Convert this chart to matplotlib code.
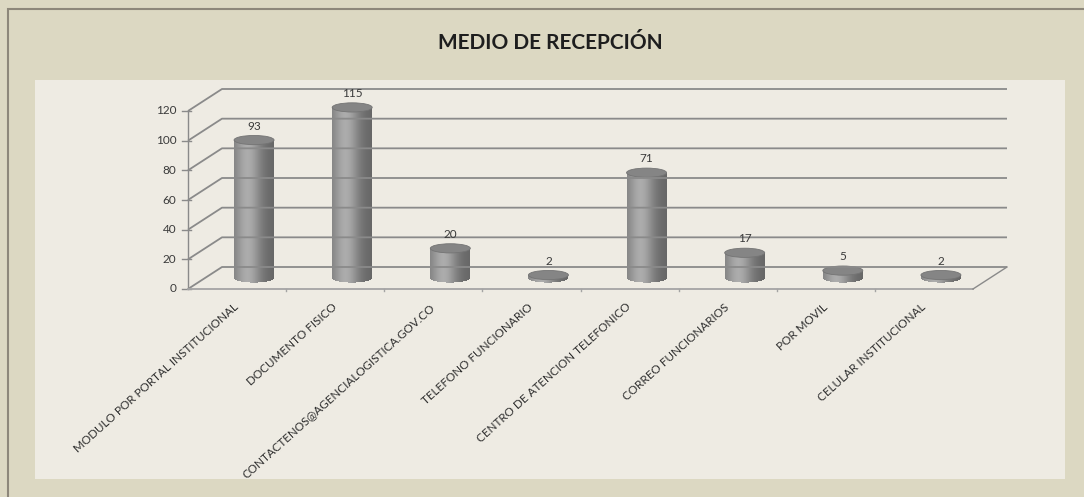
import numpy as np
import matplotlib.pyplot as plt
from matplotlib.patches import Ellipse, Rectangle

plt.rcParams['font.family'] = ['Lato', 'DejaVu Sans']

titulo = "MEDIO DE RECEPCIÓN"
categorias = [
    "MODULO POR PORTAL INSTITUCIONAL",
    "DOCUMENTO FISICO",
    "CONTACTENOS@AGENCIALOGISTICA.GOV.CO",
    "TELEFONO FUNCIONARIO",
    "CENTRO DE ATENCION TELEFONICO",
    "CORREO FUNCIONARIOS",
    "POR MOVIL",
    "CELULAR INSTITUCIONAL",
]
valores = [93, 115, 20, 2, 71, 17, 5, 2]
y_ticks = [0, 20, 40, 60, 80, 100, 120]

W, H = 1084, 497
fig = plt.figure(figsize=(W / 100, H / 100), dpi=100)
fig.patch.set_facecolor('#dcd8c2')

# marco exterior y panel interior
fig.add_artist(Rectangle((8 / W, -0.1), 1.2, 1.1 - 9 / H, transform=fig.transFigure,
                         fill=False, ec='#8d877a', lw=1.5, zorder=-2))
fig.add_artist(Rectangle((35 / W, 1 - 479 / H), (1065 - 35) / W, (479 - 80) / H,
                         transform=fig.transFigure, fc='#eeebe3', ec='none', zorder=-1))

fig.text(550 / W, 1 - 43 / H, titulo, ha='center', va='center',
         fontsize=15, fontweight='bold', color='#1e1e1e')

# escalas: 8 categorias en 785 px, 120 unidades en 178 px
px_x = 785 / 8
px_y = 178 / 120
ax = fig.add_axes([0, 0, 1, 1])
ax.set_xlim(-188 / px_x, (W - 188) / px_x)
ax.set_ylim(-208 / px_y, (H - 208) / px_y)
ax.axis('off')

n = len(categorias)
dx = 34 / px_x   # profundidad
dy = 22 / px_y
ymax = y_ticks[-1]

# pared del fondo (lineas de cuadricula)
for v in y_ticks:
    ax.plot([0, dx, n + dx], [v, v + dy, v + dy], color='#8a8a8a', lw=1.3,
            solid_capstyle='butt')
    ax.plot([-0.06, 0.03], [v, v], color='#8a8a8a', lw=1.0)
    ax.text(-0.12, v, str(v), ha='right', va='center', fontsize=8.5, color='#3a3a3a')

# eje vertical y piso
ax.plot([0, 0], [0, ymax], color='#8a8a8a', lw=1.0)
ax.plot([0, n], [0, 0], color='#a4a4a4', lw=1.3)
ax.plot([n, n + dx], [0, dy], color='#8a8a8a', lw=1.0)
for k in range(1, n):
    ax.plot([k, k], [-1.5, 0], color='#a4a4a4', lw=1.0)

# cilindros
a = 20 / px_x
b = 4.6 / px_y
base = dy / 2
m = 40
edges = np.linspace(-a, a, m + 1)
mids = (edges[:-1] + edges[1:]) / 2
t = (mids + a) / (2 * a)
luz = 0.40 + 0.24 * np.exp(-((t - 0.35) / 0.32) ** 2) + 0.05 * (1 - t)
for i, v in enumerate(valores):
    xc = i + 0.5 + dx / 2
    ybot = base - b * np.sqrt(np.clip(1 - (mids / a) ** 2, 0, 1))
    top = base + v
    for xm, yb, l in zip(mids, ybot, luz):
        ax.bar(xc + xm, top - yb, bottom=yb, width=2 * a / m * 1.05,
               color=(l, l, l), edgecolor='none')
    ax.add_patch(Ellipse((xc, top), 2 * a, 2 * b, fc='#858585', ec='#747474', lw=0.6))
    ax.text(xc, top + b + 2.5, str(v), ha='center', va='bottom',
            fontsize=8.5, color='#3a3a3a')

# etiquetas de categorias
for i, c in enumerate(categorias):
    ax.text(i + 0.5, -11, c, rotation=42, rotation_mode='anchor',
            ha='right', va='center', fontsize=8.4, color='#2e2e2e')

fig.savefig('out.png', dpi=100, facecolor=fig.get_facecolor())
